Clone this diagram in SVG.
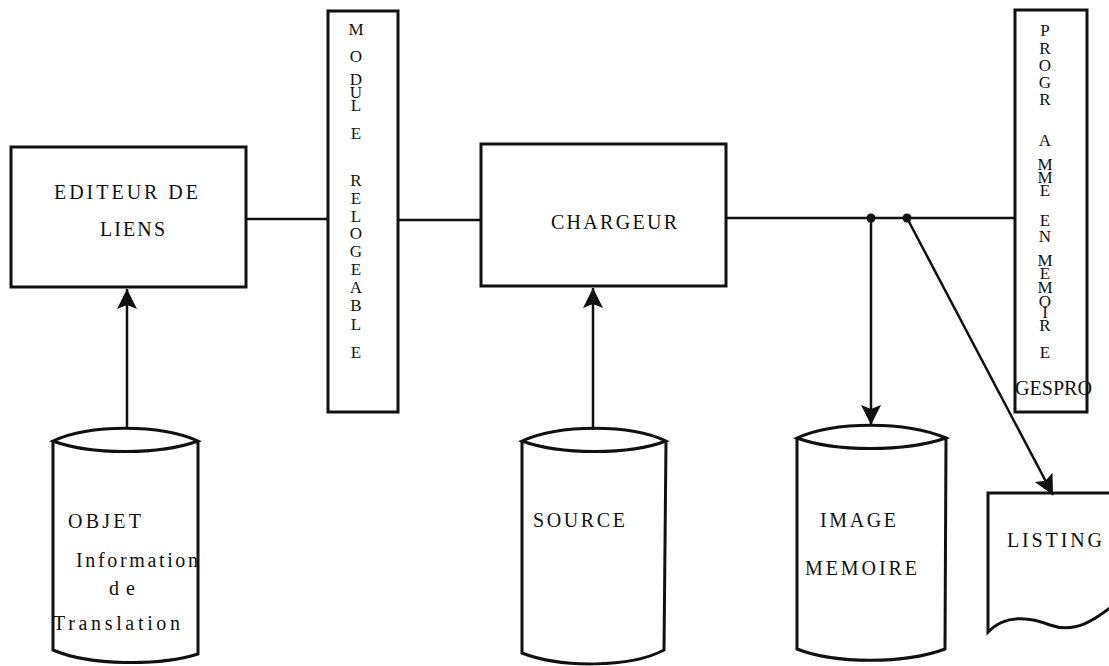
<svg xmlns="http://www.w3.org/2000/svg" width="1109" height="666" viewBox="0 0 1109 666">
<defs>
<style>
.box{fill:none;stroke:#111;stroke-width:3}
.ln{fill:none;stroke:#111;stroke-width:2.5}
.t{font-family:"Liberation Serif",serif;font-size:20px;fill:#111}
.v{font-family:"Liberation Serif",serif;font-size:17px;fill:#111;text-anchor:middle}
</style>
<marker id="ah" viewBox="0 0 20 24" refX="20" refY="10" markerWidth="20" markerHeight="24" markerUnits="userSpaceOnUse" orient="auto">
<path d="M0,0 L20,10 L0,20 L4,10 Z" fill="#111"/>
</marker>
</defs>
<rect width="1109" height="666" fill="#fff"/>

<g id="connectors">
<line class="ln" x1="246" y1="219" x2="328" y2="219"/>
<line class="ln" x1="398" y1="220" x2="481" y2="220"/>
<line class="ln" x1="726" y1="218" x2="1015" y2="218"/>
<line class="ln" x1="127" y1="427" x2="127" y2="289" marker-end="url(#ah)"/>
<line class="ln" x1="593" y1="430" x2="593" y2="288" marker-end="url(#ah)"/>
<line class="ln" x1="871" y1="218" x2="871" y2="425" marker-end="url(#ah)"/>
<line class="ln" x1="907" y1="218" x2="1053" y2="495" marker-end="url(#ah)"/>
<circle cx="871" cy="218" r="4.5" fill="#111"/>
<circle cx="907" cy="218" r="4.5" fill="#111"/>
</g>

<g id="editeur">
<rect class="box" x="11" y="147" width="235" height="140"/>
<text class="t" x="54" y="199" textLength="144">EDITEUR DE</text>
<text class="t" x="100" y="236" textLength="65">LIENS</text>
</g>

<g id="module">
<rect class="box" x="328" y="11" width="70" height="401"/>
<text class="v" x="356" y="35">M</text>
<text class="v" x="356" y="62">O</text>
<text class="v" x="356" y="85">D</text>
<text class="v" x="356" y="98">U</text>
<text class="v" x="356" y="111">L</text>
<text class="v" x="356" y="139">E</text>
<text class="v" x="356" y="186">R</text>
<text class="v" x="356" y="204">E</text>
<text class="v" x="356" y="222">L</text>
<text class="v" x="356" y="239">O</text>
<text class="v" x="356" y="257">G</text>
<text class="v" x="356" y="275">E</text>
<text class="v" x="356" y="293">A</text>
<text class="v" x="356" y="311">B</text>
<text class="v" x="356" y="330">L</text>
<text class="v" x="356" y="358">E</text>
</g>

<g id="chargeur">
<rect class="box" x="481" y="144" width="245" height="142"/>
<text class="t" x="551" y="229" textLength="126">CHARGEUR</text>
</g>

<g id="programme">
<rect class="box" x="1015" y="10" width="72" height="402"/>
<text class="v" x="1045" y="36">P</text>
<text class="v" x="1045" y="54">R</text>
<text class="v" x="1045" y="71">O</text>
<text class="v" x="1045" y="88">G</text>
<text class="v" x="1045" y="105">R</text>
<text class="v" x="1045" y="146">A</text>
<text class="v" x="1045" y="170">M</text>
<text class="v" x="1045" y="183">M</text>
<text class="v" x="1045" y="196">E</text>
<text class="v" x="1045" y="226">E</text>
<text class="v" x="1045" y="242">N</text>
<text class="v" x="1045" y="266">M</text>
<text class="v" x="1045" y="279">E</text>
<text class="v" x="1045" y="293">M</text>
<text class="v" x="1045" y="307">O</text>
<text class="v" x="1045" y="318">I</text>
<text class="v" x="1045" y="331">R</text>
<text class="v" x="1045" y="358">E</text>
<text class="t" x="1015" y="395" textLength="77" lengthAdjust="spacingAndGlyphs">GESPRO</text>
</g>

<g id="objet">
<path class="box" d="M53,441 C90,424 160,424 198,441 C160,455 90,455 53,441 Z M53,441 L53,650 C90,666 160,666 198,654 L198,441"/>
<text class="t" x="68" y="528" textLength="73">OBJET</text>
<text class="t" x="76" y="567" textLength="122">Information</text>
<text class="t" x="109" y="595" textLength="26">de</text>
<text class="t" x="53" y="630" textLength="127">Translation</text>
</g>

<g id="source">
<path class="box" d="M522,441 C560,424 630,424 666,441 C630,455 560,455 522,441 Z M522,441 L522,653 C560,668 630,668 664,650 L666,441"/>
<text class="t" x="533" y="527" textLength="92">SOURCE</text>
</g>

<g id="image">
<path class="box" d="M797,438 C835,421 905,421 946,438 C905,452 835,452 797,438 Z M797,438 L797,649 C835,664 905,664 945,649 L946,438"/>
<text class="t" x="820" y="527" textLength="76">IMAGE</text>
<text class="t" x="805" y="575" textLength="112">MEMOIRE</text>
</g>

<g id="listing">
<path class="box" d="M1115,493 L988,493 L988,632 C1005,614 1030,617 1050,625 C1075,634 1095,620 1115,604"/>
<text class="t" x="1007" y="547" textLength="95">LISTING</text>
</g>
</svg>
